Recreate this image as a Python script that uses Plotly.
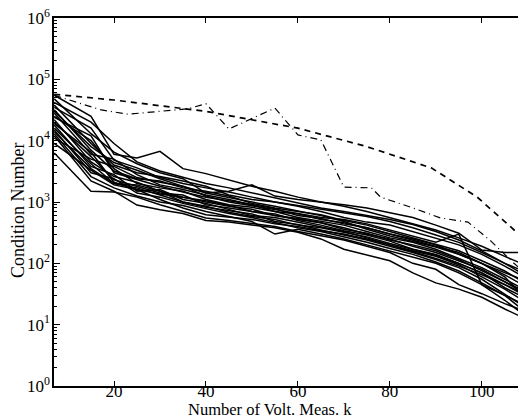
import plotly.graph_objects as go

# ---------------- data ----------------
k_grid = [7, 15, 20, 25, 30, 35, 40, 45, 50, 55, 60, 65, 70, 75, 80, 85, 90, 95, 100, 105, 110]

solid_1 = [55000, 25000, 6000, 5200, 6700, 3500, 2900, 2300, 1800, 1500, 1200, 1000, 850, 700, 560, 450, 350, 260, 190, 130, 90]
solid_2 = [48000, 13000, 6500, 4200, 3000, 2400, 1400, 1500, 1900, 1250, 1100, 1000, 900, 800, 660, 560, 420, 310, 165, 150, 150]
solid_3 = [42000, 20000, 9000, 4500, 3200, 2500, 2000, 1700, 1400, 1150, 950, 800, 700, 600, 520, 430, 330, 240, 160, 100, 60]
solid_4 = [38000, 9000, 4000, 3000, 2600, 2200, 1800, 1300, 1100, 1000, 850, 700, 560, 470, 420, 330, 260, 200, 140, 90, 55]
solid_5 = [32000, 7000, 3200, 2400, 2200, 1700, 1500, 1250, 950, 800, 700, 620, 500, 420, 330, 260, 200, 160, 110, 75, 45]
solid_6 = [28000, 6000, 5000, 2800, 1900, 1600, 1300, 1100, 900, 700, 640, 520, 460, 380, 300, 240, 190, 150, 100, 65, 40]
solid_7 = [25000, 10000, 3500, 2000, 1700, 1500, 1100, 900, 820, 700, 560, 480, 420, 330, 260, 220, 170, 120, 85, 55, 35]
solid_8 = [22000, 4500, 2600, 2100, 1500, 1200, 1000, 850, 760, 600, 520, 460, 380, 300, 250, 190, 150, 110, 80, 50, 30]
solid_9 = [20000, 5500, 2300, 1800, 1400, 1300, 900, 800, 700, 640, 500, 420, 340, 290, 230, 170, 140, 100, 70, 45, 28]
solid_10 = [18000, 3800, 2800, 1500, 1600, 1100, 950, 750, 600, 560, 470, 400, 330, 260, 200, 160, 130, 95, 60, 38, 22]
solid_11 = [16000, 4200, 2000, 1700, 1300, 1000, 820, 720, 640, 480, 430, 350, 290, 240, 190, 150, 115, 85, 55, 32, 18]
solid_12 = [15000, 3000, 2400, 1400, 1200, 950, 780, 650, 560, 460, 380, 330, 270, 220, 175, 140, 105, 75, 48, 30, 15]
solid_13 = [13000, 2600, 1700, 1250, 1000, 880, 700, 580, 480, 300, 360, 300, 250, 200, 160, 125, 100, 70, 45, 25, 13]
solid_14 = [12000, 2200, 1500, 890, 750, 650, 500, 470, 420, 380, 320, 250, 170, 135, 110, 70, 48, 38, 28, 18, 12]
solid_15 = [6300, 1500, 1450, 1200, 900, 700, 550, 500, 450, 400, 330, 280, 240, 190, 150, 100, 80, 45, 32, 22, 16]
solid_16 = [9000, 3300, 1900, 1600, 1100, 800, 620, 560, 520, 440, 400, 340, 300, 250, 200, 155, 120, 90, 65, 45, 30]
solid_17 = [11000, 5000, 3800, 2500, 2100, 1800, 1400, 1200, 1000, 850, 720, 600, 480, 360, 280, 230, 185, 140, 100, 70, 50]
solid_18 = [35000, 16000, 4800, 3600, 2500, 2000, 1700, 1450, 1200, 1000, 880, 760, 660, 580, 480, 380, 290, 220, 150, 100, 70]
solid_19 = [30000, 8000, 4400, 3300, 2400, 1800, 1250, 1000, 870, 760, 650, 560, 520, 440, 350, 280, 220, 300, 45, 30, 20]
solid_20 = [24000, 12000, 3000, 2300, 1800, 1450, 1200, 1050, 900, 780, 600, 540, 440, 380, 300, 250, 200, 140, 100, 60, 25]
solid_21 = [19000, 6500, 2100, 1600, 1350, 1200, 1050, 880, 700, 600, 540, 460, 360, 310, 240, 200, 160, 115, 75, 50, 33]
solid_22 = [14000, 3500, 2000, 1900, 1500, 1000, 850, 680, 580, 520, 420, 380, 320, 270, 210, 170, 135, 100, 70, 40, 26]

solid_series = [solid_1, solid_2, solid_3, solid_4, solid_5, solid_6, solid_7, solid_8,
                solid_9, solid_10, solid_11, solid_12, solid_13, solid_14, solid_15,
                solid_16, solid_17, solid_18, solid_19, solid_20, solid_21, solid_22]

dashed_k = [7, 20, 40, 60, 75, 89, 92, 99, 105, 110]
dashed_vals = [57000, 46000, 30000, 16000, 8000, 3600, 2600, 1200, 480, 220]

dashdot_k = [7, 17, 23, 30, 36, 40, 45, 55, 60, 65, 70, 76, 78, 85, 91, 97, 102, 107, 110]
dashdot_vals = [55000, 32000, 27000, 30000, 33000, 40000, 15500, 34000, 12400, 10300, 1750, 1700, 1200, 800, 550, 470, 230, 100, 65]

y_tick_vals = [1, 10, 100, 1000, 10000, 100000, 1000000]
y_tick_text = ["10<sup>0</sup>", "10<sup>1</sup>", "10<sup>2</sup>", "10<sup>3</sup>",
               "10<sup>4</sup>", "10<sup>5</sup>", "10<sup>6</sup>"]
x_tick_vals = [20, 40, 60, 80, 100]

# ---------------- figure ----------------
fig = go.Figure()
for s in solid_series:
    fig.add_trace(go.Scatter(x=k_grid, y=s, mode="lines",
                             line=dict(color="black", width=1.5), showlegend=False))
fig.add_trace(go.Scatter(x=dashed_k, y=dashed_vals, mode="lines",
                         line=dict(color="black", width=1.7, dash="6px,5px"), showlegend=False))
fig.add_trace(go.Scatter(x=dashdot_k, y=dashdot_vals, mode="lines",
                         line=dict(color="black", width=1.2, dash="7px,4px,1px,4px"), showlegend=False))

minor_vals = [m * 10 ** e for e in range(0, 6) for m in range(2, 10)]

# page body has an 8px margin: figure is offset by (8, 8)
W, H = 518, 412
L, R, T, B = 46, 1, 10, 34
pw, ph = W - L - R, H - T - B

font_family = "Liberation Serif, Times New Roman, serif"
fig.update_layout(
    width=W, height=H,
    margin=dict(l=L, r=R, t=T, b=B, autoexpand=False),
    paper_bgcolor="white", plot_bgcolor="white",
    font=dict(family=font_family, size=17, color="black"),
    xaxis=dict(range=[6.95, 109.4], tickvals=x_tick_vals, ticks="inside", ticklen=5,
               tickwidth=1, tickcolor="black", showline=True, linecolor="black",
               linewidth=1.5, mirror="allticks", showgrid=False, zeroline=False,
               automargin=False, ticklabelstandoff=-11, ticklabeloverflow="allow",
               tickfont=dict(size=17)),
    yaxis=dict(type="log", range=[0, 6], tickvals=y_tick_vals, ticktext=y_tick_text,
               ticks="inside", ticklen=6, tickwidth=1, tickcolor="black",
               showline=True, linecolor="black", linewidth=1.5, mirror="allticks",
               showgrid=False, zeroline=False, automargin=False, ticklabelstandoff=-1,
               ticklabeloverflow="allow", tickfont=dict(size=17),
               minor=dict(tickvals=minor_vals, ticks="inside", ticklen=3,
                          tickcolor="black", tickwidth=1, showgrid=False)),
    annotations=[
        dict(text="Number of Volt. Meas. k", xref="paper", yref="paper",
             x=(270 - 8 - L) / pw, y=-(409 - 8 - (T + ph)) / ph, xanchor="center", yanchor="middle",
             showarrow=False, font=dict(size=16.5, family=font_family)),
        dict(text="Condition Number", xref="paper", yref="paper",
             x=(18 - 8 - L) / pw, y=(T + ph - (210 - 8)) / ph, xanchor="center", yanchor="middle",
             textangle=-90, showarrow=False, font=dict(size=18, family=font_family)),
    ],
)

fig.write_html("out.html")
